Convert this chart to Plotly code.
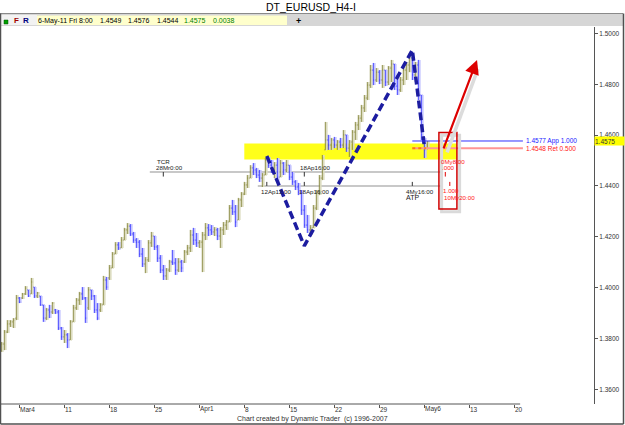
import numpy as np
import pandas as pd
import plotly.graph_objects as go

# ---------------- data (EUR/USD, 8-hour bars) ----------------
open_ = [1.3754, 1.3778, 1.3825, 1.3857, 1.3865, 1.3880, 1.3959, 1.3959, 1.3975, 1.3991,
         1.3975, 1.4002, 1.3967, 1.3967, 1.3932, 1.3880, 1.3912, 1.3904, 1.3912, 1.3904,
         1.3841, 1.3806, 1.3814, 1.3794, 1.3865, 1.3920, 1.3951, 1.3975, 1.3959, 1.3920,
         1.3991, 1.3967, 1.3912, 1.3912, 1.3932, 1.4030, 1.4038, 1.4077, 1.4132, 1.4168,
         1.4156, 1.4187, 1.4227, 1.4242, 1.4211, 1.4187, 1.4179, 1.4132, 1.4093, 1.4109,
         1.4176, 1.4203, 1.4160, 1.4116, 1.4069, 1.4046, 1.4069, 1.4101, 1.4097, 1.4069,
         1.4101, 1.4101, 1.4140, 1.4156, 1.4207, 1.4187, 1.4176, 1.4179, 1.4207, 1.4235,
         1.4227, 1.4219, 1.4227, 1.4203, 1.4227, 1.4246, 1.4258, 1.4313, 1.4298, 1.4266,
         1.4345, 1.4368, 1.4404, 1.4431, 1.4471, 1.4463, 1.4443, 1.4431, 1.4443, 1.4502,
         1.4482, 1.4463, 1.4482, 1.4435, 1.4490, 1.4463, 1.4482, 1.4435, 1.4416, 1.4396,
         1.4376, 1.4305, 1.4246, 1.4227, 1.4235, 1.4313, 1.4372, 1.4431, 1.4542, 1.4581,
         1.4561, 1.4581, 1.4561, 1.4573, 1.4561, 1.4601, 1.4549, 1.4573, 1.4612, 1.4640,
         1.4667, 1.4707, 1.4746, 1.4797, 1.4856, 1.4817, 1.4848, 1.4817, 1.4856, 1.4809,
         1.4864, 1.4880, 1.4793, 1.4778, 1.4817, 1.4856, 1.4876, 1.4904, 1.4837, 1.4876,
         1.4758, 1.4589, 1.4549]
high = [1.3786, 1.3833, 1.3872, 1.3872, 1.3880, 1.3971, 1.3963, 1.3979, 1.4006, 1.3991,
        1.4038, 1.4002, 1.3983, 1.3967, 1.3932, 1.3920, 1.3932, 1.3943, 1.3916, 1.3912,
        1.3845, 1.3833, 1.3821, 1.3872, 1.3932, 1.3959, 1.3983, 1.4002, 1.3963, 1.4002,
        1.3991, 1.3971, 1.3939, 1.3939, 1.4046, 1.4042, 1.4089, 1.4140, 1.4179, 1.4179,
        1.4199, 1.4235, 1.4254, 1.4250, 1.4219, 1.4195, 1.4187, 1.4156, 1.4120, 1.4187,
        1.4219, 1.4203, 1.4168, 1.4128, 1.4089, 1.4077, 1.4109, 1.4148, 1.4116, 1.4116,
        1.4109, 1.4148, 1.4168, 1.4227, 1.4235, 1.4215, 1.4187, 1.4219, 1.4254, 1.4250,
        1.4246, 1.4238, 1.4235, 1.4238, 1.4258, 1.4266, 1.4325, 1.4345, 1.4325, 1.4353,
        1.4376, 1.4416, 1.4443, 1.4482, 1.4490, 1.4471, 1.4463, 1.4451, 1.4510, 1.4514,
        1.4502, 1.4494, 1.4510, 1.4502, 1.4494, 1.4502, 1.4482, 1.4455, 1.4423, 1.4412,
        1.4384, 1.4325, 1.4286, 1.4246, 1.4325, 1.4384, 1.4443, 1.4522, 1.4652, 1.4601,
        1.4589, 1.4593, 1.4581, 1.4589, 1.4620, 1.4601, 1.4581, 1.4620, 1.4652, 1.4679,
        1.4719, 1.4758, 1.4809, 1.4876, 1.4884, 1.4864, 1.4856, 1.4876, 1.4856, 1.4872,
        1.4896, 1.4880, 1.4837, 1.4829, 1.4868, 1.4888, 1.4923, 1.4904, 1.4888, 1.4896,
        1.4758, 1.4589, 1.4576]
low = [1.3747, 1.3754, 1.3821, 1.3845, 1.3841, 1.3872, 1.3939, 1.3955, 1.3971, 1.3963,
       1.3975, 1.3959, 1.3959, 1.3928, 1.3865, 1.3872, 1.3880, 1.3896, 1.3896, 1.3833,
       1.3794, 1.3782, 1.3762, 1.3794, 1.3865, 1.3912, 1.3932, 1.3951, 1.3861, 1.3912,
       1.3951, 1.3900, 1.3872, 1.3904, 1.3932, 1.3991, 1.4030, 1.4077, 1.4132, 1.4148,
       1.4156, 1.4187, 1.4211, 1.4203, 1.4176, 1.4156, 1.4120, 1.4081, 1.4057, 1.4101,
       1.4160, 1.4148, 1.4101, 1.4057, 1.4030, 1.4030, 1.4061, 1.4089, 1.4050, 1.4061,
       1.4061, 1.4097, 1.4128, 1.4140, 1.4168, 1.4160, 1.4156, 1.4061, 1.4187, 1.4203,
       1.4207, 1.4203, 1.4187, 1.4156, 1.4207, 1.4227, 1.4258, 1.4286, 1.4238, 1.4266,
       1.4317, 1.4364, 1.4392, 1.4431, 1.4443, 1.4431, 1.4416, 1.4396, 1.4443, 1.4471,
       1.4451, 1.4431, 1.4412, 1.4435, 1.4443, 1.4455, 1.4423, 1.4404, 1.4384, 1.4364,
       1.4286, 1.4235, 1.4215, 1.4207, 1.4235, 1.4305, 1.4364, 1.4423, 1.4542, 1.4542,
       1.4542, 1.4549, 1.4542, 1.4549, 1.4549, 1.4534, 1.4514, 1.4542, 1.4581, 1.4620,
       1.4652, 1.4691, 1.4738, 1.4786, 1.4797, 1.4809, 1.4801, 1.4786, 1.4793, 1.4797,
       1.4809, 1.4778, 1.4758, 1.4770, 1.4797, 1.4817, 1.4848, 1.4817, 1.4809, 1.4738,
       1.4581, 1.4510, 1.4544]
close = [1.3778, 1.3825, 1.3857, 1.3865, 1.3872, 1.3959, 1.3943, 1.3975, 1.3998, 1.3967,
         1.4022, 1.3967, 1.3979, 1.3932, 1.3880, 1.3912, 1.3904, 1.3939, 1.3904, 1.3841,
         1.3806, 1.3814, 1.3794, 1.3865, 1.3920, 1.3951, 1.3975, 1.3959, 1.3880, 1.3991,
         1.3967, 1.3912, 1.3880, 1.3932, 1.4030, 1.4002, 1.4077, 1.4132, 1.4168, 1.4156,
         1.4187, 1.4227, 1.4242, 1.4211, 1.4187, 1.4179, 1.4132, 1.4093, 1.4109, 1.4176,
         1.4203, 1.4160, 1.4116, 1.4069, 1.4046, 1.4069, 1.4101, 1.4097, 1.4069, 1.4101,
         1.4077, 1.4140, 1.4156, 1.4207, 1.4187, 1.4176, 1.4179, 1.4207, 1.4235, 1.4227,
         1.4219, 1.4227, 1.4203, 1.4227, 1.4246, 1.4258, 1.4313, 1.4298, 1.4258, 1.4345,
         1.4368, 1.4404, 1.4431, 1.4471, 1.4463, 1.4443, 1.4431, 1.4443, 1.4502, 1.4482,
         1.4463, 1.4482, 1.4435, 1.4490, 1.4463, 1.4482, 1.4435, 1.4416, 1.4396, 1.4376,
         1.4305, 1.4246, 1.4227, 1.4235, 1.4313, 1.4372, 1.4431, 1.4510, 1.4581, 1.4561,
         1.4581, 1.4561, 1.4573, 1.4561, 1.4601, 1.4549, 1.4573, 1.4612, 1.4640, 1.4667,
         1.4707, 1.4746, 1.4797, 1.4856, 1.4817, 1.4848, 1.4817, 1.4856, 1.4809, 1.4864,
         1.4880, 1.4793, 1.4778, 1.4817, 1.4856, 1.4876, 1.4904, 1.4837, 1.4876, 1.4758,
         1.4601, 1.4542, 1.4575]

week_ticks = ["2011-03-04", "2011-03-11", "2011-03-18", "2011-03-25", "2011-04-01", "2011-04-08",
              "2011-04-15", "2011-04-22", "2011-04-29", "2011-05-06", "2011-05-13", "2011-05-20"]
week_labels = ["Mar4", "11", "18", "25", "Apr1", "8", "15", "22", "29", "May6", "13", "20"]
price_ticks = [1.36, 1.38, 1.40, 1.42, 1.44, 1.46, 1.48, 1.50]

# pattern pivots (blue dashed)
pattern_t = ["2011-04-12 12:00", "2011-04-18 16:00", "2011-05-04 16:00", "2011-05-06 00:00"]
pattern_p = [1.4518, 1.4164, 1.4935, 1.4558]

zone_lo, zone_hi = 1.4504, 1.4567          # yellow zone
tcr_line, atp_line = 1.4455, 1.4400        # grey time lines
app_level, ret_level = 1.4577, 1.4548      # projection levels
box_lo, box_hi = 1.4309, 1.4610            # red target box
last_price = 1.4575

assert len(open_) == len(high) == len(low) == len(close) == 143

# ---------------- trading-day scale (weekends removed) ----------------
ORIGIN = "2011-03-04"


def tday(s):
    ts = pd.Timestamp(s)
    return float(np.busday_count(ORIGIN, ts.strftime("%Y-%m-%d"))) + (ts.hour + ts.minute / 60) / 24


bar_times = [t for t in pd.date_range("2011-03-02", "2011-05-06 08:00", freq="8h") if t.weekday() < 5]
bx = [tday(t) for t in bar_times]

OLIVE, OLIVE_L = "#8a8a40", "#dcdcc0"
BLUE, BLUE_L = "#3a3aff", "#c4c4ff"
FONT = "Liberation Sans"

fig = go.Figure()
# soft shadow
fig.add_trace(go.Ohlc(x=[v + 0.17 for v in bx], open=open_, high=high, low=low, close=close,
                      increasing=dict(line=dict(color=OLIVE_L, width=1.6)),
                      decreasing=dict(line=dict(color=BLUE_L, width=1.6)),
                      tickwidth=0.3, hoverinfo="skip"))
fig.add_trace(go.Ohlc(x=bx, open=open_, high=high, low=low, close=close,
                      increasing=dict(line=dict(color=OLIVE, width=1)),
                      decreasing=dict(line=dict(color=BLUE, width=1)),
                      tickwidth=0.3))
fig.add_trace(go.Scatter(x=[tday(t) for t in pattern_t], y=pattern_p, mode="lines",
                         line=dict(color="#1c1ca0", width=3.5, dash="8px,4px"), hoverinfo="skip"))

shapes = []
# yellow zone
shapes.append(dict(type="rect", xref="x", yref="y", x0=tday("2011-04-08 00:00"), x1=tday("2011-05-11 15:00"),
                   y0=zone_lo, y1=zone_hi, fillcolor="#ffff1a", line=dict(width=0), layer="below"))
# grey time lines
shapes.append(dict(type="line", xref="x", yref="y", x0=tday("2011-03-24 12:00"), x1=tday("2011-05-09 20:00"),
                   y0=tcr_line, y1=tcr_line, line=dict(color="#c8c8c8", width=2), layer="below"))
shapes.append(dict(type="line", xref="x", yref="y", x0=tday("2011-04-11 12:00"), x1=tday("2011-05-09 20:00"),
                   y0=atp_line, y1=atp_line, line=dict(color="#c8c8c8", width=2), layer="below"))
# tick marks on time lines
for t, c in [("2011-03-28 00:00", "#333"), ("2011-04-18 16:00", "#333"), ("2011-05-10 08:00", "#e00000")]:
    shapes.append(dict(type="line", xref="x", yref="y", x0=tday(t), x1=tday(t),
                       y0=tcr_line, y1=tcr_line - 0.0018, line=dict(color=c, width=1)))
for t, c in [("2011-04-12 12:00", "#333"), ("2011-04-18 16:00", "#333"), ("2011-05-04 16:00", "#333"),
             ("2011-05-10 20:00", "#e00000")]:
    shapes.append(dict(type="line", xref="x", yref="y", x0=tday(t), x1=tday(t),
                       y0=atp_line, y1=atp_line + 0.0016, line=dict(color=c, width=1)))
# projection levels
lv0, lv1 = tday("2011-05-04 16:00"), tday("2011-05-20 23:00")
shapes.append(dict(type="line", xref="x", yref="y", x0=lv0, x1=lv1, y0=app_level, y1=app_level,
                   line=dict(color="#3030ff", width=1)))
shapes.append(dict(type="line", xref="x", yref="y", x0=lv0, x1=lv1, y0=ret_level, y1=ret_level,
                   line=dict(color="#ff9494", width=2)))
shapes.append(dict(type="line", xref="x", yref="y", x0=lv0, x1=tday("2011-05-06 04:00"), y0=ret_level,
                   y1=ret_level, line=dict(color="#ff8000", width=2, dash="dot")))
# red target box with shadow
b0, b1 = tday("2011-05-09 15:00"), tday("2011-05-11 15:00")
shapes.append(dict(type="rect", xref="x", yref="y", x0=b0 + 0.3, x1=b1 + 0.3, y0=box_lo - 0.0010,
                   y1=box_hi - 0.0010, line=dict(color="#dadada", width=3)))
shapes.append(dict(type="rect", xref="x", yref="y", x0=b0, x1=b1, y0=box_lo, y1=box_hi,
                   line=dict(color="#d00000", width=1.5)))
# arrow shadow
a_t0, a_t1 = tday("2011-05-10 02:00"), tday("2011-05-13 20:40")
a_p0, a_p1 = 1.4542, 1.4896
shapes.append(dict(type="line", xref="x", yref="y", x0=a_t0 + 0.45, x1=a_t1 + 0.1, y0=a_p0 - 0.0010,
                   y1=a_p1 - 0.0035, line=dict(color="#dcdcdc", width=3.5)))
# x axis base line (stops at May 20)
shapes.append(dict(type="line", xref="x", yref="paper", x0=-2.05, x1=55.65, y0=0, y1=0,
                   line=dict(color="#555", width=1)))


# -------- frame / header in pixel terms --------
def PX(px):
    return (px - 1) / 593


def PY(py):
    return (404 - py) / 377


shapes.append(dict(type="rect", xref="paper", yref="paper", x0=PX(0), x1=PX(623), y0=PY(26), y1=PY(13.5),
                   fillcolor="#d6d6d6", line=dict(width=0)))
shapes.append(dict(type="line", xref="paper", yref="paper", x0=PX(0), x1=PX(623), y0=PY(13.5), y1=PY(13.5),
                   line=dict(color="#8a8a8a", width=1)))
shapes.append(dict(type="rect", xref="paper", yref="paper", x0=PX(1), x1=PX(37), y0=PY(25), y1=PY(15),
                   fillcolor="#f2f2f2", line=dict(width=0)))
shapes.append(dict(type="rect", xref="paper", yref="paper", x0=PX(37), x1=PX(287), y0=PY(25), y1=PY(15.5),
                   fillcolor="#ffffcc", line=dict(width=0)))
shapes.append(dict(type="rect", xref="paper", yref="paper", x0=PX(4), x1=PX(8), y0=PY(24), y1=PY(20),
                   fillcolor="#00a000", line=dict(color="#005000", width=0.5)))
for x0, y0, x1, y1 in [(0.5, 13.5, 0.5, 424), (623.5, 13.5, 623.5, 424), (0.5, 424, 623.5, 424)]:
    shapes.append(dict(type="line", xref="paper", yref="paper", x0=PX(x0), x1=PX(x1), y0=PY(y0), y1=PY(y1),
                       line=dict(color="#505050", width=1.5)))

ann = []


def txt(text, x, y, xref="paper", yref="paper", size=7, color="#222", xanchor="left", yanchor="middle",
        xshift=0, yshift=0, **kw):
    ann.append(dict(text=text, x=x, y=y, xref=xref, yref=yref, showarrow=False, xanchor=xanchor,
                    yanchor=yanchor, xshift=xshift, yshift=yshift, borderpad=0,
                    font=dict(family=FONT, size=size, color=color), **kw))


txt("DT_EURUSD_H4-I", PX(311), PY(7), size=10.5, color="#000", xanchor="center")
txt("<b>F</b>", PX(13), PY(21), size=8, color="#a00000")
txt("<b>R</b>", PX(22), PY(21), size=8, color="#000080")
txt("6-May-11 Fri 8:00", PX(37), PY(21), color="#000")
for s, px, c in [("1.4549", 99, "#000"), ("1.4576", 127, "#000"), ("1.4544", 156, "#000"),
                 ("1.4575", 183, "#008000"), ("0.0038", 212, "#008000")]:
    txt(s, PX(px), PY(21), color=c)
txt("<b>+</b>", PX(298), PY(21), size=9, color="#000", xanchor="center")
txt("Chart created by Dynamic Trader  (c) 1996-2007", PX(312), PY(419), color="#333", xanchor="center")

# x tick labels (left aligned after each tick)
for d, lab in zip(week_ticks, week_labels):
    txt(lab, tday(d), 0, xref="x", yref="paper", size=6.5, color="#333", yshift=-5, xshift=0)

# time-line labels
S = 6.2
txt("TCR", tday("2011-03-28 00:00"), tcr_line, xref="x", yref="y", xshift=-7, yshift=10.5, size=S)
txt("28Mr0:00", tday("2011-03-28 00:00"), tcr_line, xref="x", yref="y", xshift=-8, yshift=4, size=S)
txt("18Ap16:00", tday("2011-04-18 16:00"), tcr_line, xref="x", yref="y", xshift=-5, yshift=4, size=S)
txt("12Ap12:00", tday("2011-04-12 12:00"), atp_line, xref="x", yref="y", xshift=-7, yshift=-5.5, size=S)
txt("18Ap16:00", tday("2011-04-18 16:00"), atp_line, xref="x", yref="y", xshift=-6, yshift=-5.5, size=S)
txt("4My16:00", tday("2011-05-04 16:00"), atp_line, xref="x", yref="y", xshift=-7, yshift=-5.5, size=S)
txt("ATP", tday("2011-05-04 16:00"), atp_line, xref="x", yref="y", xshift=-7, yshift=-12, size=7)
txt("0My8:00", tday("2011-05-10 08:00"), tcr_line, xref="x", yref="y", xshift=-5, yshift=10, color="#ff2020",
    size=S)
txt(".000", tday("2011-05-10 08:00"), tcr_line, xref="x", yref="y", xshift=-4, yshift=4, color="#ff2020", size=S)
txt("1.000", tday("2011-05-10 20:00"), atp_line, xref="x", yref="y", xshift=-8, yshift=-5, color="#ff2020",
    size=S)
txt("10My20:00", tday("2011-05-10 20:00"), atp_line, xref="x", yref="y", xshift=-7, yshift=-11.5,
    color="#ff2020", size=S)
# level labels
txt("1.4577 App 1.000", lv1, app_level, xref="x", yref="y", xshift=2, color="#2020ff", size=6.5)
txt("1.4548 Ret 0.500", lv1, ret_level, xref="x", yref="y", xshift=2, color="#ff2020", size=6.5)
# last price tag on axis
ann.append(dict(text="1.4575", x=1, y=last_price, xref="paper", yref="y", showarrow=False, xanchor="left",
                yanchor="middle", bgcolor="#ffff00", width=29, height=8, align="left", borderpad=0,
                font=dict(family=FONT, size=6.5, color="#333")))
# red arrow
ann.append(dict(x=a_t1, y=a_p1, ax=a_t0, ay=a_p0, xref="x", yref="y", axref="x", ayref="y", text="",
                showarrow=True, arrowhead=2, arrowsize=1.3, arrowwidth=2.2, arrowcolor="#dd0000"))

fig.update_layout(
    width=625, height=425, margin=dict(l=1, r=31, t=27, b=21),
    paper_bgcolor="white", plot_bgcolor="white", showlegend=False,
    shapes=shapes, annotations=ann,
    xaxis=dict(range=[-2.0333, 63.856], showgrid=False, zeroline=False, showline=False,
               tickvals=[tday(d) for d in week_ticks], showticklabels=False,
               ticks="outside", ticklen=3, tickcolor="#555", rangeslider=dict(visible=False)),
    yaxis=dict(side="right", range=[1.35419, 1.50256], tickvals=price_ticks, tickformat=".4f",
               ticks="outside", ticklen=3, tickcolor="#555", showline=True, linecolor="#555", linewidth=1,
               showgrid=False, zeroline=False, tickfont=dict(family=FONT, size=6.5, color="#333")),
)

fig.write_html("out.html")
